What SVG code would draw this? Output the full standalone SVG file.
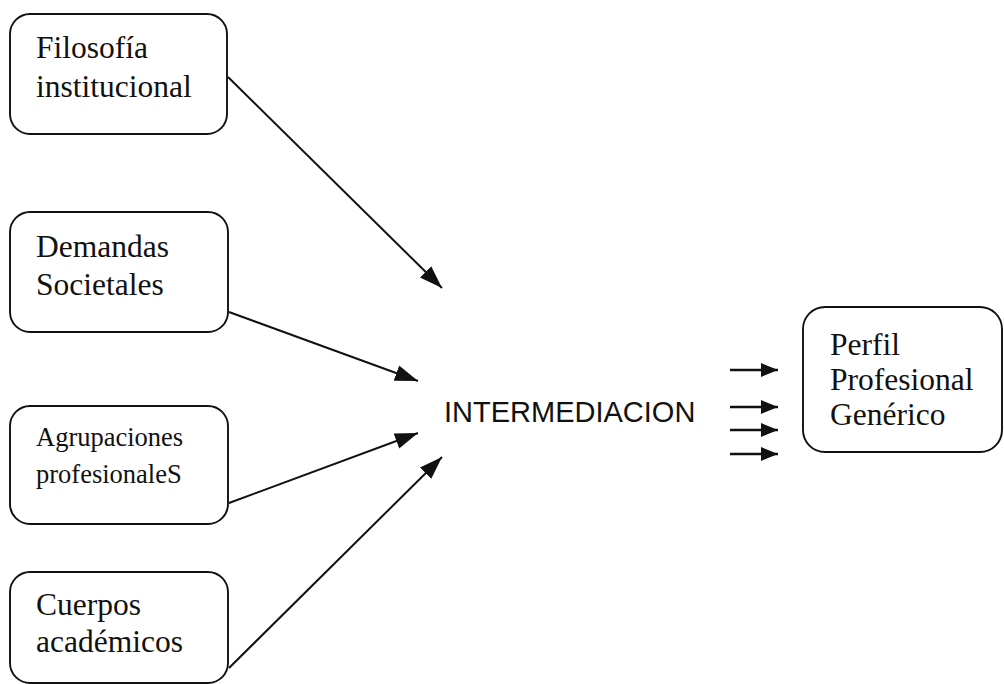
<svg xmlns="http://www.w3.org/2000/svg" width="1004" height="684" viewBox="0 0 1004 684">
<defs>
<style>
.box{fill:#fff;stroke:#111;stroke-width:1.9}
.t{font-family:"Liberation Serif","Times New Roman",serif;font-size:31.5px;fill:#111}
.ts{font-family:"Liberation Serif","Times New Roman",serif;font-size:26.5px;fill:#111}
.c{fill:none;stroke:#111;stroke-width:2}
.c2{fill:none;stroke:#111;stroke-width:2.4}
.sans{font-family:"Liberation Sans",Arial,sans-serif;font-size:29px;fill:#111}
</style>
<marker id="ah" markerWidth="24" markerHeight="18" refX="23" refY="9" orient="auto" markerUnits="userSpaceOnUse">
<path d="M0,1 L23,9 L0,17 Z" fill="#111"/>
</marker>
<marker id="ah2" markerWidth="18" markerHeight="16" refX="17" refY="8" orient="auto" markerUnits="userSpaceOnUse">
<path d="M0,1 L17,8 L0,15 Z" fill="#111"/>
</marker>
</defs>
<rect width="1004" height="684" fill="#fff"/>
<g id="filosofia">
<rect class="box" x="10" y="14" width="217" height="120" rx="20"/>
<text class="t" x="36" y="58">Filosofía</text>
<text class="t" x="36" y="97">institucional</text>
</g>
<g id="demandas">
<rect class="box" x="10" y="212" width="218" height="120" rx="20"/>
<text class="t" x="36" y="257">Demandas</text>
<text class="t" x="36" y="295">Societales</text>
</g>
<g id="agrupaciones">
<rect class="box" x="10" y="406" width="218" height="118" rx="20"/>
<text class="ts" x="36" y="446">Agrupaciones</text>
<text class="ts" x="36" y="483">profesionaleS</text>
</g>
<g id="cuerpos">
<rect class="box" x="10" y="572" width="218" height="111" rx="20"/>
<text class="t" x="36" y="615">Cuerpos</text>
<text class="t" x="36" y="652">académicos</text>
</g>
<g id="intermediacion">
<text class="sans" x="444" y="422">INTERMEDIACION</text>
</g>
<g id="perfil">
<rect class="box" x="803" y="307" width="199" height="145" rx="22"/>
<text class="t" x="830" y="355">Perfil</text>
<text class="t" x="830" y="390">Profesional</text>
<text class="t" x="830" y="425">Genérico</text>
</g>
<g id="connectors">
<line class="c" x1="228" y1="77" x2="442" y2="288" marker-end="url(#ah)"/>
<line class="c" x1="229" y1="312" x2="418" y2="381" marker-end="url(#ah)"/>
<line class="c" x1="229" y1="503" x2="418" y2="433" marker-end="url(#ah)"/>
<line class="c" x1="229" y1="668" x2="442" y2="457" marker-end="url(#ah)"/>
<line class="c2" x1="730" y1="370" x2="778" y2="370" marker-end="url(#ah2)"/>
<line class="c2" x1="730" y1="407" x2="778" y2="407" marker-end="url(#ah2)"/>
<line class="c2" x1="730" y1="430" x2="778" y2="430" marker-end="url(#ah2)"/>
<line class="c2" x1="730" y1="454" x2="778" y2="454" marker-end="url(#ah2)"/>
</g>
</svg>
